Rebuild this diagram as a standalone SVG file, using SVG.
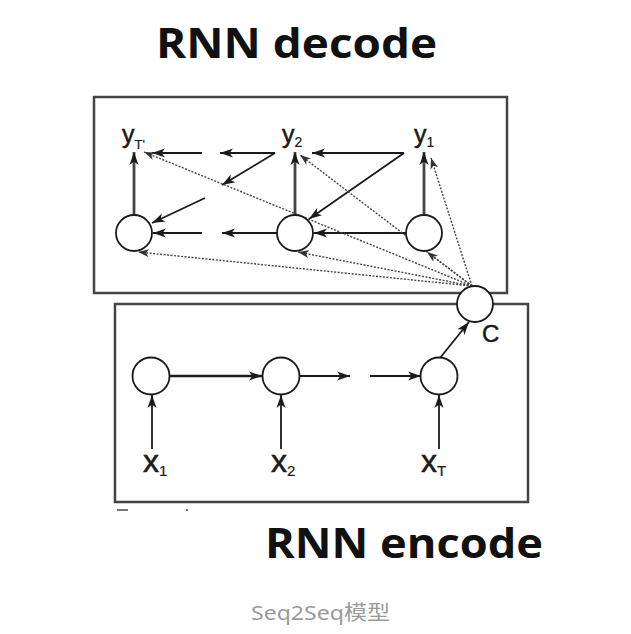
<svg xmlns="http://www.w3.org/2000/svg" width="631" height="634" viewBox="0 0 631 634">
<defs>
<marker id="ah" markerUnits="userSpaceOnUse" markerWidth="14" markerHeight="10" refX="13" refY="5" orient="auto">
<path d="M0,0.5 L13,5 L0,9.5 L3.5,5 z" fill="#1a1a1a"/>
</marker>
<marker id="ad" markerUnits="userSpaceOnUse" markerWidth="12" markerHeight="9" refX="11" refY="4.5" orient="auto">
<path d="M0,0.5 L11,4.5 L0,8.5 L3,4.5 z" fill="#333"/>
</marker>
<style>
.box{fill:none;stroke:#444;stroke-width:2.5}
.node{fill:#fff;stroke:#1a1a1a;stroke-width:1.8}
.a{stroke:#1a1a1a;stroke-width:1.8;fill:none;marker-end:url(#ah)}
.v{stroke:#444;stroke-width:2.8;fill:none;marker-end:url(#ah)}
.d{stroke:#444;stroke-width:1.4;stroke-dasharray:2 1.5;fill:none;marker-end:url(#ad)}
.title{font-family:"Open Sans","DejaVu Sans",sans-serif;font-weight:bold;font-size:42px;fill:#111}
.lab{font-family:"Liberation Sans","DejaVu Sans",sans-serif;fill:#1a1a1a;stroke:#1a1a1a;stroke-width:0.5}
.cap{font-family:"Noto Sans","Noto Sans CJK SC",sans-serif;font-weight:normal;font-size:20px;fill:#9a9a9a}
</style>
</defs>
<rect width="631" height="634" fill="#fff"/>
<text class="title" x="156" y="58" textLength="281" lengthAdjust="spacingAndGlyphs">RNN decode</text>
<text class="title" x="265" y="558" textLength="278" lengthAdjust="spacingAndGlyphs">RNN encode</text>
<text class="cap" x="251" y="620" textLength="139" lengthAdjust="spacingAndGlyphs">Seq2Seq模型</text>
<rect id="decoder-box" class="box" x="94" y="97" width="413" height="196"/>
<rect id="encoder-box" class="box" x="115" y="304" width="413" height="198"/>
<g id="remnants" fill="#777">
<rect x="117" y="509" width="11" height="2"/>
<rect x="186" y="509" width="2" height="2"/>
</g>
<g id="connectors">
<line class="v" x1="134" y1="214" x2="134" y2="152"/>
<line class="v" x1="295" y1="214" x2="295" y2="152"/>
<line class="v" x1="424" y1="214" x2="424" y2="152"/>
<line class="a" x1="404" y1="153" x2="312" y2="153"/>
<line class="a" x1="404" y1="153" x2="309" y2="219"/>
<line class="a" x1="275" y1="153" x2="220" y2="153"/>
<line class="a" x1="202" y1="153" x2="152" y2="153"/>
<line class="a" x1="275" y1="153" x2="222" y2="185"/>
<line class="a" x1="205" y1="198" x2="152" y2="223"/>
<line class="a" x1="406" y1="233" x2="314" y2="233"/>
<line class="a" x1="277" y1="233" x2="222" y2="233"/>
<line class="a" x1="202" y1="233" x2="153" y2="233"/>
<line class="d" x1="472" y1="286" x2="431" y2="158"/>
<line class="d" x1="472" y1="286" x2="300" y2="155"/>
<line class="d" x1="472" y1="286" x2="144" y2="152"/>
<line class="d" x1="472" y1="286" x2="427" y2="252"/>
<line class="d" x1="472" y1="286" x2="298" y2="252"/>
<line class="d" x1="472" y1="286" x2="138" y2="252"/>
<line class="a" x1="170" y1="376" x2="262" y2="376" style="stroke-width:2.6"/>
<line class="a" x1="300" y1="376" x2="350" y2="376"/>
<line class="a" x1="370" y1="376" x2="421" y2="376"/>
<line class="a" x1="440" y1="358" x2="469" y2="322"/>
<line class="a" x1="152" y1="449" x2="152" y2="395"/>
<line class="a" x1="281" y1="449" x2="281" y2="395"/>
<line class="a" x1="439" y1="449" x2="439" y2="395"/>
</g>
<g id="d1"><circle class="node" cx="134" cy="233" r="18"/></g>
<g id="d2"><circle class="node" cx="295" cy="233" r="18"/></g>
<g id="d3"><circle class="node" cx="424" cy="233" r="18"/></g>
<g id="c"><circle class="node" cx="475" cy="304" r="18"/><text class="lab" x="482" y="342" font-size="24">C</text></g>
<g id="e1"><circle class="node" cx="151" cy="376" r="18.5"/></g>
<g id="e2"><circle class="node" cx="281" cy="376" r="18.5"/></g>
<g id="e3"><circle class="node" cx="439" cy="376" r="18.5"/></g>
<g id="yT"><text class="lab" x="122" y="143" font-size="25">y<tspan font-size="13" dy="6" stroke-width="0.2">T'</tspan></text></g>
<g id="y2"><text class="lab" x="282" y="143" font-size="25">y<tspan font-size="14" dy="4" stroke-width="0.2">2</tspan></text></g>
<g id="y1"><text class="lab" x="414" y="143" font-size="25">y<tspan font-size="14" dy="4" stroke-width="0.2">1</tspan></text></g>
<g id="x1"><text class="lab" x="143" y="472" font-size="32">x<tspan font-size="15" dy="4" stroke-width="0.2">1</tspan></text></g>
<g id="x2"><text class="lab" x="271" y="472" font-size="32">x<tspan font-size="15" dy="4" stroke-width="0.2">2</tspan></text></g>
<g id="xT"><text class="lab" x="421" y="472" font-size="32">x<tspan font-size="15" dy="4" stroke-width="0.2">T</tspan></text></g>
</svg>
